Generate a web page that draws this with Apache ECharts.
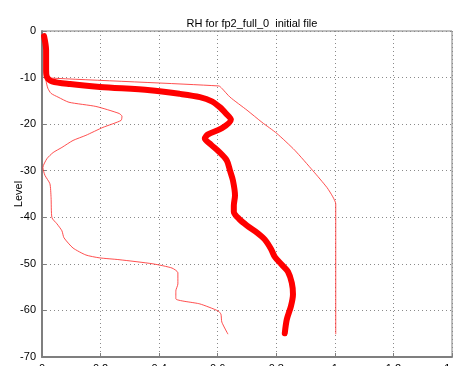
<!DOCTYPE html>
<html>
<head>
<meta charset="utf-8">
<script src="https://cdn.jsdelivr.net/npm/echarts@6/dist/echarts.min.js"></script>
<style>
html,body{margin:0;padding:0;background:#fff;}
#chart{width:454px;height:366px;}
</style>
</head>
<body>
<div id="chart"></div>
<script>
// RH profiles against model level
const xTicks = [0, 0.2, 0.4, 0.6, 0.8, 1, 1.2, 1.4];
const yTicks = [0, -10, -20, -30, -40, -50, -60, -70];

// Thick profile: level and RH
const thickLevel = [-1.1,-4.1,-8.4,-9.9,-10.8,-11.4,-12.0,-12.7,-13.5,-14.2,-15.1,-16.4,-17.7,-19.0,-20.9,-22.2,-23.1,-24.4,-25.9,-27.8,-30.0,-32.1,-35.3,-37.5,-38.8,-40.3,-41.8,-43.3,-44.8,-46.8,-48.5,-50.2,-51.7,-54.1,-56.5,-59.1,-61.9,-64.9];
const thickRH = [0.007,0.014,0.014,0.017,0.034,0.096,0.198,0.369,0.471,0.539,0.580,0.608,0.628,0.645,0.614,0.567,0.556,0.577,0.604,0.631,0.642,0.652,0.659,0.655,0.655,0.672,0.700,0.734,0.761,0.782,0.795,0.819,0.840,0.853,0.857,0.850,0.836,0.829];

// Upper bound profile
const upperLevel = [-1.1,-8.4,-9.9,-10.1,-11.8,-12.3,-14.2,-17.0,-19.6,-22.0,-25.6,-30.0,-33.6,-35.6,-37.1,-45.0,-55.0,-65.1];
const upperRH = [0.007,0.010,0.014,0.027,0.604,0.614,0.642,0.700,0.751,0.802,0.863,0.925,0.973,0.993,1.003,1.003,1.003,1.003];

// Lower bound profile
const lowerLevel = [-1.1,-8.4,-10.8,-12.3,-13.4,-14.2,-15.3,-16.2,-17.7,-18.3,-19.2,-20.7,-22.4,-23.5,-25.0,-26.1,-27.4,-29.3,-31.0,-32.8,-35.8,-40.1,-41.4,-42.9,-44.4,-46.6,-48.1,-48.7,-49.1,-50.0,-50.9,-51.9,-54.3,-55.8,-57.5,-58.6,-60.1,-60.8,-62.5,-65.1];
const lowerRH = [0.007,0.010,0.014,0.020,0.031,0.055,0.092,0.184,0.263,0.273,0.270,0.208,0.150,0.106,0.068,0.038,0.017,0.003,0.010,0.027,0.031,0.034,0.051,0.068,0.075,0.106,0.150,0.195,0.263,0.379,0.444,0.464,0.464,0.457,0.457,0.539,0.601,0.611,0.614,0.635];

const pairs = (xs, ys) => xs.map((v, i) => [v, ys[i]]);

const chart = echarts.init(document.getElementById('chart'), null, {renderer: 'canvas'});
const fontFamily = '"Liberation Sans", Arial, sans-serif';

chart.setOption({
  animation: false,
  backgroundColor: '#ffffff',
  title: {
    text: 'RH for fp2_full_0  initial file',
    left: 247,
    textAlign: 'center',
    top: 13,
    textStyle: {fontSize: 11, fontWeight: 'normal', color: '#000', fontFamily}
  },
  grid: {
    left: 42, right: 2, top: 31, bottom: 9,
    outerBoundsMode: 'none',
    containLabel: false,
    show: true, borderColor: '#7f7f7f', borderWidth: 1, backgroundColor: 'transparent'
  },
  xAxis: {
    type: 'value', min: 0, max: 1.4, interval: 0.2,
    axisLine: {show: true, onZero: false, lineStyle: {color: '#7f7f7f', width: 2}},
    axisTick: {show: true, inside: true, length: 4, lineStyle: {color: '#7f7f7f'}},
    axisLabel: {
      margin: 6, fontSize: 11, color: '#000', fontFamily,
      formatter: v => String(xTicks.find(t => Math.abs(t - v) < 1e-6) ?? v)
    },
    splitLine: {show: true, lineStyle: {color: '#8a8a8a', type: [1, 3], width: 1}}
  },
  yAxis: {
    type: 'value', min: -70, max: 0, interval: 10,
    name: 'Level', nameLocation: 'middle', nameGap: 18,
    nameMoveOverlap: false,
    nameTextStyle: {fontSize: 11, color: '#000', fontFamily},
    axisLine: {show: true, onZero: false, lineStyle: {color: '#7f7f7f', width: 2}},
    axisTick: {show: true, inside: true, length: 4, lineStyle: {color: '#7f7f7f'}},
    axisLabel: {
      margin: 6, fontSize: 11, color: '#000', fontFamily,
      formatter: v => String(yTicks.find(t => Math.abs(t - v) < 1e-6) ?? v)
    },
    splitLine: {show: true, lineStyle: {color: '#8a8a8a', type: [1, 3], width: 1}}
  },
  series: [
    {
      type: 'line', data: pairs(upperRH, upperLevel), showSymbol: false, smooth: 0.2,
      lineStyle: {color: '#ff3030', width: 1, opacity: 0.85}
    },
    {
      type: 'line', data: pairs(lowerRH, lowerLevel), showSymbol: false, smooth: 0.2,
      lineStyle: {color: '#ff3030', width: 1, opacity: 0.85}
    },
    {
      type: 'line', data: pairs(thickRH, thickLevel), showSymbol: false, smooth: 0.3,
      lineStyle: {color: '#ff0000', width: 6, cap: 'round', join: 'round'}
    }
  ]
});
</script>
</body>
</html>
